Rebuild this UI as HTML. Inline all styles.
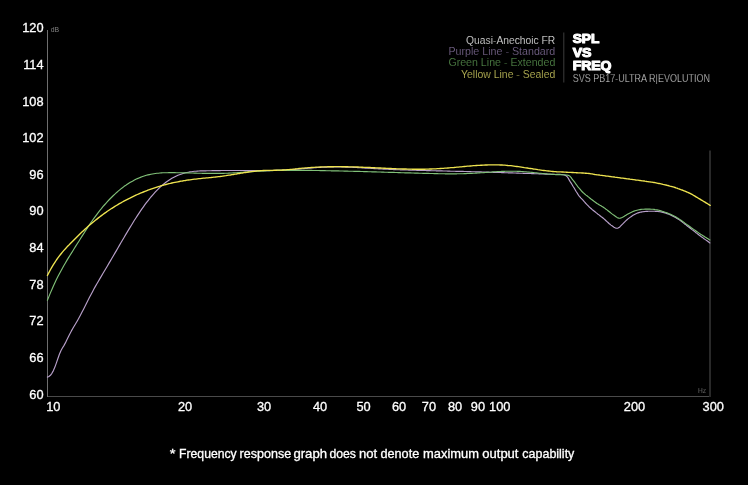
<!DOCTYPE html>
<html><head><meta charset="utf-8"><title>SPL vs FREQ</title>
<style>
html,body{margin:0;padding:0;background:#000;}
body{width:748px;height:485px;overflow:hidden;position:relative;font-family:"Liberation Sans",sans-serif;}
</style></head><body>
<svg width="748" height="485" viewBox="0 0 748 485" style="position:absolute;left:0;top:0;will-change:transform">
<rect width="748" height="485" fill="#000"/>
<rect x="47" y="30" width="1" height="367" fill="#6e6e6e"/>
<rect x="48" y="396" width="663" height="1" fill="#4a4a4a"/>
<rect x="709" y="150.5" width="2" height="246.5" fill="#292929"/>
<rect x="563.3" y="32.5" width="1" height="50" fill="#3c3c3c"/>
<g fill="none" stroke-linecap="round" stroke-linejoin="round">
<path d="M47.4 377.1L48.9 376.5L50.4 375.3L51.9 373.3L53.4 370.6L54.9 367.1L56.4 362.9L57.9 358.5L59.4 354.3L60.9 350.7L62.4 348.0L63.9 345.6L65.4 342.9L66.9 339.8L68.4 336.7L69.9 333.7L71.4 330.9L72.9 328.3L74.4 325.8L75.9 323.3L77.4 320.7L78.9 318.0L80.4 315.2L81.9 312.3L83.4 309.4L84.9 306.5L86.4 303.5L87.9 300.6L89.4 297.6L90.9 294.7L92.4 291.9L93.9 289.1L95.4 286.4L96.9 283.8L98.4 281.2L99.9 278.6L101.4 276.1L102.9 273.5L104.4 271.0L105.9 268.5L107.4 266.0L108.9 263.4L110.4 260.9L111.9 258.3L113.4 255.7L114.9 253.1L116.4 250.6L117.9 248.0L119.4 245.4L120.9 242.8L122.4 240.2L123.9 237.7L125.4 235.1L126.9 232.6L128.4 230.1L129.9 227.6L131.4 225.2L132.9 222.7L134.4 220.3L135.9 218.0L137.4 215.6L138.9 213.4L140.4 211.1L141.9 208.9L143.4 206.8L144.9 204.7L146.4 202.7L147.9 200.8L149.4 198.9L150.9 197.0L152.4 195.3L153.9 193.6L155.4 191.9L156.9 190.4L158.4 188.9L159.9 187.4L161.4 186.0L162.9 184.7L164.4 183.5L165.9 182.3L167.4 181.2L168.9 180.2L170.4 179.2L171.9 178.3L173.4 177.5L174.9 176.7L176.4 176.0L177.9 175.3L179.4 174.7L180.9 174.2L182.4 173.7L183.9 173.2L185.4 172.8L186.9 172.5L188.4 172.2L189.9 171.9L191.4 171.7L192.9 171.5L194.4 171.3L195.9 171.2L197.4 171.1L198.9 171.0L200.4 170.9L201.9 170.9L203.4 170.8L204.9 170.8L206.4 170.8L207.9 170.7L209.4 170.7L210.9 170.7L212.4 170.6L213.9 170.6L215.4 170.6L216.9 170.6L218.4 170.6L219.9 170.6L221.4 170.5L222.9 170.5L224.4 170.5L225.9 170.5L227.4 170.5L228.9 170.5L230.4 170.5L231.9 170.5L233.4 170.5L234.9 170.5L236.4 170.5L237.9 170.5L239.4 170.5L240.9 170.5L242.4 170.5L243.9 170.6L245.4 170.6L246.9 170.6L248.4 170.6L249.9 170.6L251.4 170.6L252.9 170.6L254.4 170.6L255.9 170.6L257.4 170.6L258.9 170.6L260.4 170.6L261.9 170.6L263.4 170.6L264.9 170.6L266.4 170.6L267.9 170.6L269.4 170.6L270.9 170.5L272.4 170.5L273.9 170.5L275.4 170.4L276.9 170.4L278.4 170.3L279.9 170.3L281.4 170.2L282.9 170.1L284.4 170.1L285.9 170.0L287.4 169.9L288.9 169.8L290.4 169.7L291.9 169.6L293.4 169.5L294.9 169.4L296.4 169.2L297.9 169.1L299.4 169.0L300.9 168.9L302.4 168.7L303.9 168.6L305.4 168.5L306.9 168.4L308.4 168.2L309.9 168.1L311.4 168.0L312.9 167.9L314.4 167.8L315.9 167.6L317.4 167.5L318.9 167.4L320.4 167.4L321.9 167.3L323.4 167.2L324.9 167.1L326.4 167.1L327.9 167.0L329.4 167.0L330.9 166.9L332.4 166.9L333.9 166.9L335.4 166.9L336.9 166.9L338.4 166.9L339.9 166.9L341.4 167.0L342.9 167.0L344.4 167.0L345.9 167.1L347.4 167.1L348.9 167.2L350.4 167.2L351.9 167.3L353.4 167.4L354.9 167.5L356.4 167.5L357.9 167.6L359.4 167.7L360.9 167.8L362.4 167.9L363.9 168.0L365.4 168.1L366.9 168.2L368.4 168.2L369.9 168.3L371.4 168.4L372.9 168.5L374.4 168.6L375.9 168.7L377.4 168.8L378.9 168.9L380.4 168.9L381.9 169.0L383.4 169.1L384.9 169.2L386.4 169.2L387.9 169.3L389.4 169.4L390.9 169.4L392.4 169.5L393.9 169.6L395.4 169.6L396.9 169.7L398.4 169.7L399.9 169.8L401.4 169.8L402.9 169.9L404.4 169.9L405.9 170.0L407.4 170.0L408.9 170.1L410.4 170.1L411.9 170.2L413.4 170.2L414.9 170.2L416.4 170.3L417.9 170.3L419.4 170.4L420.9 170.4L422.4 170.4L423.9 170.5L425.4 170.5L426.9 170.6L428.4 170.6L429.9 170.6L431.4 170.7L432.9 170.7L434.4 170.7L435.9 170.8L437.4 170.8L438.9 170.9L440.4 170.9L441.9 170.9L443.4 171.0L444.9 171.0L446.4 171.0L447.9 171.1L449.4 171.1L450.9 171.2L452.4 171.2L453.9 171.2L455.4 171.3L456.9 171.3L458.4 171.3L459.9 171.4L461.4 171.4L462.9 171.4L464.4 171.5L465.9 171.5L467.4 171.6L468.9 171.6L470.4 171.6L471.9 171.7L473.4 171.7L474.9 171.8L476.4 171.8L477.9 171.8L479.4 171.9L480.9 171.9L482.4 172.0L483.9 172.0L485.4 172.0L486.9 172.1L488.4 172.1L489.9 172.2L491.4 172.2L492.9 172.3L494.4 172.3L495.9 172.4L497.4 172.4L498.9 172.5L500.4 172.5L501.9 172.6L503.4 172.6L504.9 172.7L506.4 172.7L507.9 172.8L509.4 172.8L510.9 172.9L512.4 172.9L513.9 173.0L515.4 173.0L516.9 173.1L518.4 173.1L519.9 173.2L521.4 173.2L522.9 173.3L524.4 173.3L525.9 173.4L527.4 173.4L528.9 173.5L530.4 173.5L531.9 173.6L533.4 173.6L534.9 173.7L536.4 173.7L537.9 173.8L539.4 173.9L540.9 173.9L542.4 174.0L543.9 174.0L545.4 174.1L546.9 174.1L548.4 174.2L549.9 174.2L551.4 174.3L552.9 174.3L554.4 174.4L555.9 174.5L556.0 174.5L557.0 174.3L558.0 174.3L559.0 174.3L560.0 174.4L561.0 174.5L562.0 174.6L563.0 174.8L564.0 175.0L565.0 175.2L566.0 175.7L567.0 176.5L568.0 177.8L569.0 179.6L570.0 181.4L571.0 182.9L572.0 184.5L573.0 186.2L574.0 187.8L575.0 189.5L576.0 191.2L577.0 192.8L578.0 194.4L579.0 195.8L580.0 197.0L581.0 198.1L582.0 199.1L583.0 200.2L584.0 201.3L585.0 202.5L586.0 203.6L587.0 204.7L588.0 205.7L589.0 206.7L590.0 207.6L591.0 208.5L592.0 209.4L593.0 210.2L594.0 211.0L595.0 211.8L596.0 212.6L597.0 213.4L598.0 214.2L599.0 214.9L600.0 215.7L601.0 216.5L602.0 217.2L603.0 218.0L604.0 218.9L605.0 219.8L606.0 220.7L607.0 221.6L608.0 222.5L609.0 223.5L610.0 224.3L611.0 225.1L612.0 225.8L613.0 226.5L614.0 227.2L615.0 227.7L616.0 228.1L617.0 228.2L618.0 228.1L619.0 227.6L620.0 226.7L621.0 225.7L622.0 224.7L623.0 223.7L624.0 222.6L625.0 221.6L626.0 220.6L627.0 219.7L628.0 218.9L629.0 218.1L630.0 217.4L631.0 216.7L632.0 216.0L633.0 215.3L634.0 214.7L635.0 214.2L636.0 213.7L637.0 213.3L638.0 212.9L639.0 212.6L640.0 212.3L641.0 212.1L642.0 211.9L643.0 211.8L644.0 211.6L645.0 211.5L646.0 211.4L647.0 211.3L648.0 211.3L649.0 211.2L650.0 211.2L651.0 211.2L652.0 211.2L653.0 211.2L654.0 211.2L655.0 211.3L656.0 211.3L657.0 211.4L658.0 211.5L659.0 211.6L660.0 211.7L661.0 211.9L662.0 212.1L663.0 212.4L664.0 212.6L665.0 212.9L666.0 213.2L667.0 213.6L668.0 213.9L669.0 214.3L670.0 214.8L671.0 215.2L672.0 215.7L673.0 216.2L674.0 216.7L675.0 217.2L676.0 217.8L677.0 218.4L678.0 219.0L679.0 219.6L680.0 220.3L681.0 221.1L682.0 221.8L683.0 222.6L684.0 223.4L685.0 224.2L686.0 224.9L687.0 225.7L688.0 226.5L689.0 227.2L690.0 228.0L691.0 228.8L692.0 229.6L693.0 230.3L694.0 231.1L695.0 231.9L696.0 232.7L697.0 233.4L698.0 234.2L699.0 235.0L700.0 235.7L701.0 236.5L702.0 237.2L703.0 237.9L704.0 238.7L705.0 239.4L706.0 240.1L707.0 240.8L708.0 241.5L709.0 242.3L709.9 242.9" stroke="#b8a0ca" stroke-width="1.15"/>
<path d="M47.4 300.3L48.9 296.6L50.4 292.9L51.9 289.4L53.4 286.0L54.9 282.8L56.4 279.6L57.9 276.6L59.4 273.7L60.9 270.9L62.4 268.2L63.9 265.5L65.4 263.0L66.9 260.4L68.4 257.9L69.9 255.5L71.4 253.1L72.9 250.7L74.4 248.3L75.9 245.9L77.4 243.5L78.9 241.2L80.4 238.8L81.9 236.4L83.4 234.1L84.9 231.7L86.4 229.4L87.9 227.1L89.4 224.8L90.9 222.6L92.4 220.5L93.9 218.3L95.4 216.3L96.9 214.3L98.4 212.3L99.9 210.4L101.4 208.6L102.9 206.7L104.4 205.0L105.9 203.3L107.4 201.6L108.9 200.0L110.4 198.5L111.9 197.0L113.4 195.5L114.9 194.1L116.4 192.7L117.9 191.4L119.4 190.1L120.9 188.9L122.4 187.8L123.9 186.6L125.4 185.6L126.9 184.5L128.4 183.5L129.9 182.6L131.4 181.7L132.9 180.9L134.4 180.1L135.9 179.3L137.4 178.6L138.9 178.0L140.4 177.4L141.9 176.8L143.4 176.3L144.9 175.8L146.4 175.3L147.9 174.9L149.4 174.6L150.9 174.3L152.4 174.0L153.9 173.7L155.4 173.5L156.9 173.3L158.4 173.2L159.9 173.0L161.4 172.9L162.9 172.8L164.4 172.7L165.9 172.7L167.4 172.7L168.9 172.6L170.4 172.6L171.9 172.6L173.4 172.6L174.9 172.6L176.4 172.7L177.9 172.7L179.4 172.7L180.9 172.7L182.4 172.8L183.9 172.8L185.4 172.8L186.9 172.9L188.4 172.9L189.9 173.0L191.4 173.0L192.9 173.0L194.4 173.1L195.9 173.1L197.4 173.2L198.9 173.2L200.4 173.2L201.9 173.3L203.4 173.3L204.9 173.3L206.4 173.4L207.9 173.4L209.4 173.4L210.9 173.4L212.4 173.4L213.9 173.4L215.4 173.4L216.9 173.4L218.4 173.4L219.9 173.4L221.4 173.4L222.9 173.3L224.4 173.3L225.9 173.2L227.4 173.2L228.9 173.1L230.4 173.0L231.9 173.0L233.4 172.9L234.9 172.8L236.4 172.7L237.9 172.6L239.4 172.5L240.9 172.4L242.4 172.3L243.9 172.2L245.4 172.1L246.9 172.0L248.4 171.9L249.9 171.8L251.4 171.7L252.9 171.6L254.4 171.5L255.9 171.4L257.4 171.3L258.9 171.2L260.4 171.1L261.9 171.0L263.4 170.9L264.9 170.8L266.4 170.8L267.9 170.7L269.4 170.7L270.9 170.6L272.4 170.6L273.9 170.5L275.4 170.5L276.9 170.4L278.4 170.4L279.9 170.4L281.4 170.4L282.9 170.3L284.4 170.3L285.9 170.3L287.4 170.3L288.9 170.3L290.4 170.3L291.9 170.3L293.4 170.3L294.9 170.3L296.4 170.3L297.9 170.3L299.4 170.3L300.9 170.3L302.4 170.3L303.9 170.3L305.4 170.4L306.9 170.4L308.4 170.4L309.9 170.4L311.4 170.4L312.9 170.5L314.4 170.5L315.9 170.5L317.4 170.5L318.9 170.5L320.4 170.6L321.9 170.6L323.4 170.6L324.9 170.6L326.4 170.7L327.9 170.7L329.4 170.7L330.9 170.8L332.4 170.8L333.9 170.8L335.4 170.9L336.9 170.9L338.4 170.9L339.9 171.0L341.4 171.0L342.9 171.0L344.4 171.1L345.9 171.1L347.4 171.1L348.9 171.2L350.4 171.2L351.9 171.2L353.4 171.3L354.9 171.3L356.4 171.4L357.9 171.4L359.4 171.4L360.9 171.5L362.4 171.5L363.9 171.6L365.4 171.6L366.9 171.6L368.4 171.7L369.9 171.7L371.4 171.8L372.9 171.8L374.4 171.9L375.9 171.9L377.4 172.0L378.9 172.0L380.4 172.0L381.9 172.1L383.4 172.1L384.9 172.2L386.4 172.2L387.9 172.3L389.4 172.3L390.9 172.4L392.4 172.4L393.9 172.4L395.4 172.5L396.9 172.5L398.4 172.6L399.9 172.6L401.4 172.7L402.9 172.7L404.4 172.8L405.9 172.8L407.4 172.8L408.9 172.9L410.4 172.9L411.9 173.0L413.4 173.0L414.9 173.1L416.4 173.1L417.9 173.1L419.4 173.2L420.9 173.2L422.4 173.3L423.9 173.3L425.4 173.4L426.9 173.4L428.4 173.4L429.9 173.5L431.4 173.5L432.9 173.5L434.4 173.6L435.9 173.6L437.4 173.6L438.9 173.7L440.4 173.7L441.9 173.7L443.4 173.7L444.9 173.8L446.4 173.8L447.9 173.8L449.4 173.8L450.9 173.8L452.4 173.8L453.9 173.8L455.4 173.8L456.9 173.8L458.4 173.7L459.9 173.7L461.4 173.7L462.9 173.7L464.4 173.6L465.9 173.6L467.4 173.5L468.9 173.5L470.4 173.4L471.9 173.4L473.4 173.3L474.9 173.2L476.4 173.1L477.9 173.0L479.4 172.9L480.9 172.8L482.4 172.7L483.9 172.6L485.4 172.5L486.9 172.4L488.4 172.3L489.9 172.2L491.4 172.1L492.9 171.9L494.4 171.8L495.9 171.7L497.4 171.6L498.9 171.5L500.4 171.5L501.9 171.4L503.4 171.3L504.9 171.3L506.4 171.2L507.9 171.2L509.4 171.2L510.9 171.2L512.4 171.2L513.9 171.2L515.4 171.2L516.9 171.3L518.4 171.3L519.9 171.4L521.4 171.5L522.9 171.6L524.4 171.7L525.9 171.8L527.4 172.0L528.9 172.1L530.4 172.3L531.9 172.4L533.4 172.5L534.9 172.7L536.4 172.8L537.9 173.0L539.4 173.2L540.9 173.3L542.4 173.5L543.9 173.6L545.4 173.7L546.9 173.9L548.4 174.0L549.9 174.1L551.4 174.3L552.9 174.4L554.4 174.5L555.9 174.6L556.0 174.6L557.0 174.6L558.0 174.6L559.0 174.6L560.0 174.6L561.0 174.6L562.0 174.7L563.0 174.7L564.0 174.8L565.0 174.9L566.0 175.0L567.0 175.1L568.0 175.3L569.0 175.6L570.0 176.3L571.0 177.4L572.0 178.9L573.0 180.2L574.0 181.4L575.0 182.7L576.0 184.2L577.0 185.5L578.0 186.8L579.0 188.0L580.0 189.2L581.0 190.4L582.0 191.5L583.0 192.5L584.0 193.4L585.0 194.3L586.0 195.1L587.0 195.8L588.0 196.6L589.0 197.4L590.0 198.2L591.0 199.0L592.0 199.7L593.0 200.5L594.0 201.3L595.0 202.0L596.0 202.7L597.0 203.5L598.0 204.1L599.0 204.7L600.0 205.3L601.0 205.8L602.0 206.4L603.0 207.0L604.0 207.7L605.0 208.4L606.0 209.2L607.0 209.9L608.0 210.7L609.0 211.5L610.0 212.3L611.0 213.1L612.0 213.9L613.0 214.6L614.0 215.3L615.0 216.0L616.0 216.7L617.0 217.4L618.0 217.9L619.0 218.2L620.0 218.2L621.0 217.9L622.0 217.5L623.0 217.0L624.0 216.4L625.0 215.8L626.0 215.2L627.0 214.6L628.0 214.0L629.0 213.5L630.0 213.0L631.0 212.5L632.0 212.0L633.0 211.5L634.0 211.1L635.0 210.8L636.0 210.5L637.0 210.2L638.0 210.0L639.0 209.8L640.0 209.6L641.0 209.4L642.0 209.3L643.0 209.2L644.0 209.2L645.0 209.1L646.0 209.1L647.0 209.1L648.0 209.1L649.0 209.1L650.0 209.1L651.0 209.2L652.0 209.2L653.0 209.3L654.0 209.4L655.0 209.6L656.0 209.7L657.0 209.9L658.0 210.1L659.0 210.3L660.0 210.6L661.0 210.9L662.0 211.2L663.0 211.5L664.0 211.9L665.0 212.2L666.0 212.5L667.0 212.9L668.0 213.3L669.0 213.7L670.0 214.1L671.0 214.5L672.0 215.0L673.0 215.5L674.0 216.0L675.0 216.5L676.0 217.1L677.0 217.7L678.0 218.3L679.0 218.9L680.0 219.6L681.0 220.3L682.0 221.0L683.0 221.7L684.0 222.4L685.0 223.2L686.0 223.9L687.0 224.6L688.0 225.3L689.0 226.0L690.0 226.7L691.0 227.5L692.0 228.2L693.0 228.9L694.0 229.6L695.0 230.3L696.0 231.0L697.0 231.7L698.0 232.4L699.0 233.1L700.0 233.8L701.0 234.4L702.0 235.1L703.0 235.7L704.0 236.3L705.0 237.0L706.0 237.6L707.0 238.2L708.0 238.8L709.0 239.4L709.9 239.9" stroke="#80c078" stroke-width="1.15"/>
<path d="M47.4 275.5L48.9 272.6L50.4 269.8L51.9 267.1L53.4 264.6L54.9 262.3L56.4 260.0L57.9 257.9L59.4 255.9L60.9 254.0L62.4 252.1L63.9 250.4L65.4 248.8L66.9 247.1L68.4 245.6L69.9 244.0L71.4 242.5L72.9 241.0L74.4 239.5L75.9 238.0L77.4 236.5L78.9 235.0L80.4 233.5L81.9 232.1L83.4 230.7L84.9 229.3L86.4 227.9L87.9 226.6L89.4 225.3L90.9 224.0L92.4 222.7L93.9 221.5L95.4 220.3L96.9 219.1L98.4 217.9L99.9 216.7L101.4 215.6L102.9 214.5L104.4 213.4L105.9 212.4L107.4 211.3L108.9 210.3L110.4 209.3L111.9 208.3L113.4 207.4L114.9 206.4L116.4 205.5L117.9 204.6L119.4 203.7L120.9 202.9L122.4 202.0L123.9 201.2L125.4 200.4L126.9 199.6L128.4 198.8L129.9 198.1L131.4 197.3L132.9 196.6L134.4 195.9L135.9 195.2L137.4 194.5L138.9 193.8L140.4 193.2L141.9 192.6L143.4 192.0L144.9 191.4L146.4 190.8L147.9 190.2L149.4 189.7L150.9 189.1L152.4 188.6L153.9 188.1L155.4 187.6L156.9 187.1L158.4 186.6L159.9 186.2L161.4 185.7L162.9 185.3L164.4 184.9L165.9 184.5L167.4 184.1L168.9 183.7L170.4 183.4L171.9 183.0L173.4 182.7L174.9 182.4L176.4 182.1L177.9 181.8L179.4 181.5L180.9 181.2L182.4 181.0L183.9 180.7L185.4 180.5L186.9 180.2L188.4 180.0L189.9 179.8L191.4 179.6L192.9 179.4L194.4 179.2L195.9 179.1L197.4 178.9L198.9 178.7L200.4 178.6L201.9 178.4L203.4 178.2L204.9 178.1L206.4 177.9L207.9 177.8L209.4 177.6L210.9 177.5L212.4 177.3L213.9 177.1L215.4 177.0L216.9 176.8L218.4 176.6L219.9 176.5L221.4 176.3L222.9 176.1L224.4 175.9L225.9 175.7L227.4 175.4L228.9 175.2L230.4 175.0L231.9 174.7L233.4 174.5L234.9 174.2L236.4 174.0L237.9 173.7L239.4 173.5L240.9 173.2L242.4 173.0L243.9 172.7L245.4 172.5L246.9 172.3L248.4 172.0L249.9 171.8L251.4 171.6L252.9 171.4L254.4 171.3L255.9 171.1L257.4 170.9L258.9 170.8L260.4 170.7L261.9 170.6L263.4 170.5L264.9 170.4L266.4 170.4L267.9 170.3L269.4 170.3L270.9 170.3L272.4 170.3L273.9 170.2L275.4 170.2L276.9 170.2L278.4 170.1L279.9 170.1L281.4 170.1L282.9 170.0L284.4 169.9L285.9 169.8L287.4 169.7L288.9 169.6L290.4 169.4L291.9 169.3L293.4 169.1L294.9 169.0L296.4 168.8L297.9 168.7L299.4 168.5L300.9 168.4L302.4 168.2L303.9 168.1L305.4 167.9L306.9 167.8L308.4 167.7L309.9 167.6L311.4 167.5L312.9 167.4L314.4 167.3L315.9 167.2L317.4 167.1L318.9 167.1L320.4 167.0L321.9 166.9L323.4 166.9L324.9 166.8L326.4 166.8L327.9 166.7L329.4 166.7L330.9 166.7L332.4 166.7L333.9 166.7L335.4 166.6L336.9 166.6L338.4 166.6L339.9 166.6L341.4 166.7L342.9 166.7L344.4 166.7L345.9 166.7L347.4 166.7L348.9 166.8L350.4 166.8L351.9 166.8L353.4 166.9L354.9 166.9L356.4 167.0L357.9 167.0L359.4 167.1L360.9 167.2L362.4 167.2L363.9 167.3L365.4 167.3L366.9 167.4L368.4 167.5L369.9 167.5L371.4 167.6L372.9 167.7L374.4 167.7L375.9 167.8L377.4 167.9L378.9 168.0L380.4 168.0L381.9 168.1L383.4 168.2L384.9 168.2L386.4 168.3L387.9 168.4L389.4 168.5L390.9 168.5L392.4 168.6L393.9 168.6L395.4 168.7L396.9 168.8L398.4 168.8L399.9 168.9L401.4 168.9L402.9 169.0L404.4 169.0L405.9 169.0L407.4 169.1L408.9 169.1L410.4 169.1L411.9 169.2L413.4 169.2L414.9 169.2L416.4 169.2L417.9 169.2L419.4 169.2L420.9 169.2L422.4 169.2L423.9 169.2L425.4 169.2L426.9 169.1L428.4 169.1L429.9 169.0L431.4 169.0L432.9 168.9L434.4 168.9L435.9 168.8L437.4 168.7L438.9 168.6L440.4 168.5L441.9 168.4L443.4 168.3L444.9 168.2L446.4 168.1L447.9 168.0L449.4 167.9L450.9 167.7L452.4 167.6L453.9 167.5L455.4 167.3L456.9 167.2L458.4 167.1L459.9 166.9L461.4 166.8L462.9 166.6L464.4 166.5L465.9 166.4L467.4 166.2L468.9 166.1L470.4 166.0L471.9 165.9L473.4 165.7L474.9 165.6L476.4 165.5L477.9 165.4L479.4 165.3L480.9 165.2L482.4 165.2L483.9 165.1L485.4 165.0L486.9 165.0L488.4 164.9L489.9 164.9L491.4 164.9L492.9 164.9L494.4 164.9L495.9 164.9L497.4 164.9L498.9 164.9L500.4 165.0L501.9 165.0L503.4 165.1L504.9 165.2L506.4 165.3L507.9 165.5L509.4 165.6L510.9 165.7L512.4 165.9L513.9 166.1L515.4 166.3L516.9 166.5L518.4 166.7L519.9 166.9L521.4 167.1L522.9 167.3L524.4 167.6L525.9 167.8L527.4 168.0L528.9 168.3L530.4 168.5L531.9 168.7L533.4 169.0L534.9 169.2L536.4 169.4L537.9 169.7L539.4 169.9L540.9 170.1L542.4 170.3L543.9 170.5L545.4 170.7L546.9 170.9L548.4 171.0L549.9 171.2L551.4 171.4L552.9 171.5L554.4 171.6L555.9 171.7L556.0 171.7L557.0 171.8L558.0 171.8L559.0 171.8L560.0 171.9L561.0 171.9L562.0 172.0L563.0 172.0L564.0 172.1L565.0 172.1L566.0 172.2L567.0 172.2L568.0 172.3L569.0 172.3L570.0 172.4L571.0 172.4L572.0 172.5L573.0 172.5L574.0 172.6L575.0 172.6L576.0 172.7L577.0 172.7L578.0 172.8L579.0 172.8L580.0 172.9L581.0 172.9L582.0 173.0L583.0 173.0L584.0 173.1L585.0 173.2L586.0 173.2L587.0 173.3L588.0 173.4L589.0 173.5L590.0 173.6L591.0 173.8L592.0 173.9L593.0 174.1L594.0 174.3L595.0 174.5L596.0 174.6L597.0 174.8L598.0 174.9L599.0 175.0L600.0 175.2L601.0 175.3L602.0 175.4L603.0 175.6L604.0 175.7L605.0 175.8L606.0 176.0L607.0 176.1L608.0 176.2L609.0 176.4L610.0 176.5L611.0 176.6L612.0 176.8L613.0 176.9L614.0 177.0L615.0 177.2L616.0 177.3L617.0 177.4L618.0 177.6L619.0 177.7L620.0 177.8L621.0 178.0L622.0 178.1L623.0 178.2L624.0 178.4L625.0 178.5L626.0 178.6L627.0 178.8L628.0 178.9L629.0 179.0L630.0 179.2L631.0 179.3L632.0 179.4L633.0 179.6L634.0 179.7L635.0 179.8L636.0 180.0L637.0 180.1L638.0 180.2L639.0 180.4L640.0 180.5L641.0 180.6L642.0 180.8L643.0 180.9L644.0 181.0L645.0 181.2L646.0 181.3L647.0 181.5L648.0 181.6L649.0 181.8L650.0 181.9L651.0 182.1L652.0 182.2L653.0 182.4L654.0 182.5L655.0 182.7L656.0 182.9L657.0 183.1L658.0 183.3L659.0 183.5L660.0 183.7L661.0 183.9L662.0 184.1L663.0 184.4L664.0 184.6L665.0 184.8L666.0 185.0L667.0 185.3L668.0 185.5L669.0 185.8L670.0 186.1L671.0 186.3L672.0 186.6L673.0 186.9L674.0 187.2L675.0 187.5L676.0 187.9L677.0 188.2L678.0 188.6L679.0 188.9L680.0 189.3L681.0 189.7L682.0 190.0L683.0 190.4L684.0 190.8L685.0 191.2L686.0 191.6L687.0 192.0L688.0 192.5L689.0 192.9L690.0 193.4L691.0 193.9L692.0 194.4L693.0 195.0L694.0 195.6L695.0 196.2L696.0 196.8L697.0 197.4L698.0 198.0L699.0 198.6L700.0 199.2L701.0 199.8L702.0 200.4L703.0 201.0L704.0 201.6L705.0 202.2L706.0 202.8L707.0 203.4L708.0 204.0L709.0 204.7L710.0 205.3L710.2 205.4" stroke="#efe450" stroke-width="1.35"/>
</g>
<g font-family="Liberation Sans, sans-serif" fill="#fff">
<text x="43.6" y="32.2" font-size="12.8" text-anchor="end" class="yl" stroke="#fff" stroke-width="0.3">120</text>
<text x="43.6" y="68.8" font-size="12.8" text-anchor="end" class="yl" stroke="#fff" stroke-width="0.3">114</text>
<text x="43.6" y="105.5" font-size="12.8" text-anchor="end" class="yl" stroke="#fff" stroke-width="0.3">108</text>
<text x="43.6" y="142.1" font-size="12.8" text-anchor="end" class="yl" stroke="#fff" stroke-width="0.3">102</text>
<text x="43.6" y="178.7" font-size="12.8" text-anchor="end" class="yl" stroke="#fff" stroke-width="0.3">96</text>
<text x="43.6" y="215.4" font-size="12.8" text-anchor="end" class="yl" stroke="#fff" stroke-width="0.3">90</text>
<text x="43.6" y="252.0" font-size="12.8" text-anchor="end" class="yl" stroke="#fff" stroke-width="0.3">84</text>
<text x="43.6" y="288.6" font-size="12.8" text-anchor="end" class="yl" stroke="#fff" stroke-width="0.3">78</text>
<text x="43.6" y="325.2" font-size="12.8" text-anchor="end" class="yl" stroke="#fff" stroke-width="0.3">72</text>
<text x="43.6" y="361.9" font-size="12.8" text-anchor="end" class="yl" stroke="#fff" stroke-width="0.3">66</text>
<text x="43.6" y="398.5" font-size="12.8" text-anchor="end" class="yl" stroke="#fff" stroke-width="0.3">60</text>
<text x="46.2" y="411.4" font-size="12.8" text-anchor="start" class="xl" stroke="#fff" stroke-width="0.3">10</text>
<text x="185.0" y="411.4" font-size="12.8" text-anchor="middle" class="xl" stroke="#fff" stroke-width="0.3">20</text>
<text x="264.0" y="411.4" font-size="12.8" text-anchor="middle" class="xl" stroke="#fff" stroke-width="0.3">30</text>
<text x="320.0" y="411.4" font-size="12.8" text-anchor="middle" class="xl" stroke="#fff" stroke-width="0.3">40</text>
<text x="363.5" y="411.4" font-size="12.8" text-anchor="middle" class="xl" stroke="#fff" stroke-width="0.3">50</text>
<text x="399.0" y="411.4" font-size="12.8" text-anchor="middle" class="xl" stroke="#fff" stroke-width="0.3">60</text>
<text x="428.9" y="411.4" font-size="12.8" text-anchor="middle" class="xl" stroke="#fff" stroke-width="0.3">70</text>
<text x="455.0" y="411.4" font-size="12.8" text-anchor="middle" class="xl" stroke="#fff" stroke-width="0.3">80</text>
<text x="477.9" y="411.4" font-size="12.8" text-anchor="middle" class="xl" stroke="#fff" stroke-width="0.3">90</text>
<text x="499.8" y="411.4" font-size="12.8" text-anchor="middle" class="xl" stroke="#fff" stroke-width="0.3">100</text>
<text x="634.5" y="411.4" font-size="12.8" text-anchor="middle" class="xl" stroke="#fff" stroke-width="0.3">200</text>
<text x="713.3" y="411.4" font-size="12.8" text-anchor="middle" class="xl" stroke="#fff" stroke-width="0.3">300</text>
<text x="50.7" y="31.8" font-size="7.8" fill="#808080" textLength="8.4" lengthAdjust="spacingAndGlyphs">dB</text>
<text x="698" y="392.9" font-size="8" fill="#8a8a8a" textLength="8.1" lengthAdjust="spacingAndGlyphs" stroke="#000" stroke-width="0.25">Hz</text>
<g font-size="10.8" text-anchor="end" stroke="#000" stroke-width="0.22" lengthAdjust="spacingAndGlyphs">
<text x="555.3" y="44" fill="#f0f0f0" id="l1" textLength="89.2" lengthAdjust="spacingAndGlyphs">Quasi-Anechoic FR</text>
<text x="555.3" y="55" fill="#826f99" id="l2" textLength="106.9" lengthAdjust="spacingAndGlyphs">Purple Line - Standard</text>
<text x="555.3" y="66.4" fill="#5a9450" id="l3" textLength="106.9" lengthAdjust="spacingAndGlyphs">Green Line - Extended</text>
<text x="555.3" y="77.5" fill="#d2ce62" id="l4" textLength="94.3" lengthAdjust="spacingAndGlyphs">Yellow Line - Sealed</text>
</g>
<g font-weight="bold" font-size="12.7" stroke="#fff" stroke-width="1.1" stroke-linejoin="round">
<text x="572.7" y="43.2" id="t1" textLength="26.6" lengthAdjust="spacingAndGlyphs">SPL</text>
<text x="572.7" y="56.6" id="t2" textLength="18.8" lengthAdjust="spacingAndGlyphs">VS</text>
<text x="572.7" y="69.9" id="t3" textLength="38.8" lengthAdjust="spacingAndGlyphs">FREQ</text>
</g>
<text x="572.7" y="81.5" font-size="10.7" fill="#cfcfcf" stroke="#000" stroke-width="0.25" id="t4" textLength="137.3" lengthAdjust="spacingAndGlyphs">SVS PB17-ULTRA R|EVOLUTION</text>
<g font-size="12.1" stroke="#fff" stroke-width="0.3" id="ft">
<text x="169.74" y="458.1" textLength="5.72" lengthAdjust="spacingAndGlyphs">*</text>
<text x="179.12" y="458.1" textLength="57.52" lengthAdjust="spacingAndGlyphs">Frequency</text>
<text x="239.61" y="458.1" textLength="51.53" lengthAdjust="spacingAndGlyphs">response</text>
<text x="293.43" y="458.1" textLength="33.62" lengthAdjust="spacingAndGlyphs">graph</text>
<text x="329.45" y="458.1" textLength="26.54" lengthAdjust="spacingAndGlyphs">does</text>
<text x="358.93" y="458.1" textLength="18.19" lengthAdjust="spacingAndGlyphs">not</text>
<text x="380.43" y="458.1" textLength="38.81" lengthAdjust="spacingAndGlyphs">denote</text>
<text x="423.05" y="458.1" textLength="55.92" lengthAdjust="spacingAndGlyphs">maximum</text>
<text x="482.30" y="458.1" textLength="36.18" lengthAdjust="spacingAndGlyphs">output</text>
<text x="522.39" y="458.1" textLength="51.95" lengthAdjust="spacingAndGlyphs">capability</text>
</g>
</g>
</svg>
</body></html>
